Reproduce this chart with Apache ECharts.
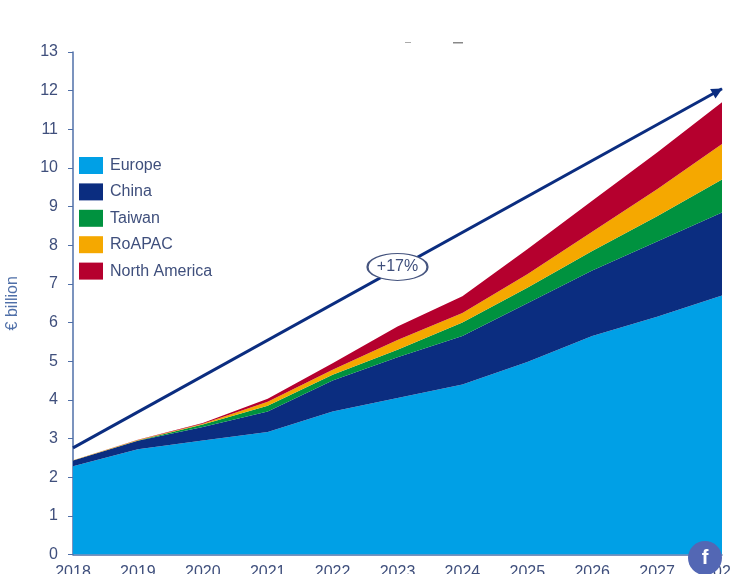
<!DOCTYPE html>
<html lang="en">
<head>
    <meta charset="UTF-8">
    <title>Market growth by region</title>
    <script src="https://cdn.jsdelivr.net/npm/echarts@6/dist/echarts.min.js"></script>
    <style>
        html, body { margin: 0; padding: 0; background: #fff; overflow: hidden; }
        #chart { width: 731px; height: 574px; }
    </style>
</head>
<body>
<div id="chart"></div>
<script type="text/javascript">
    // values, in € billion per region (the areas stack)
    let years = ['2018', '2019', '2020', '2021', '2022', '2023', '2024', '2025', '2026', '2027', '2028'];
    let europe = [2.28, 2.72, 2.95, 3.17, 3.70, 4.05, 4.40, 4.98, 5.65, 6.15, 6.70];
    let china = [0.15, 0.22, 0.35, 0.53, 0.80, 1.05, 1.25, 1.52, 1.70, 1.95, 2.15];
    let taiwan = [0.00, 0.01, 0.06, 0.15, 0.15, 0.20, 0.35, 0.40, 0.50, 0.65, 0.85];
    let roapac = [0.01, 0.01, 0.02, 0.10, 0.13, 0.25, 0.25, 0.35, 0.50, 0.70, 0.92];
    let northAmerica = [0.00, 0.01, 0.02, 0.08, 0.17, 0.35, 0.43, 0.65, 0.80, 0.95, 1.08];

    let arrowStart = 2.76;
    let arrowEnd = 12.05;
    let growthLabel = '+17%';
    let growthAt = ['2023', 7.44];

    let textColor = '#3f4f7c';
    let axisColor = '#4f6fa8';
    let navy = '#0b2d80';

    let myChart = echarts.init(document.getElementById('chart'));

    function area(name, data, color) {
        return {
            name: name,
            type: 'line',
            stack: 'total',
            data: data,
            symbol: 'none',
            lineStyle: { width: 0 },
            itemStyle: { color: color },
            areaStyle: { color: color, opacity: 1 }
        };
    }

    let option = {
        animation: false,
        backgroundColor: '#fff',
        textStyle: { fontFamily: '"Liberation Sans", Arial, sans-serif' },
        grid: { left: 73, right: 9, top: 52, bottom: 19.5, outerBoundsMode: 'none' },
        legend: {
            orient: 'vertical',
            left: 74,
            top: 152,
            icon: 'rect',
            itemWidth: 24,
            itemHeight: 17,
            itemGap: 9.4,
            data: ['Europe', 'China', 'Taiwan', 'RoAPAC', 'North America'],
            textStyle: { color: textColor, fontSize: 16, padding: [3, 0, 0, 2] }
        },
        xAxis: {
            type: 'category',
            boundaryGap: false,
            data: years,
            axisLine: { lineStyle: { color: axisColor, width: 1.5 } },
            axisTick: { show: false },
            axisLabel: { color: textColor, fontSize: 16, margin: 10, interval: 0, hideOverlap: false }
        },
        yAxis: {
            type: 'value',
            min: 0,
            max: 13,
            interval: 1,
            name: '€ billion',
            nameLocation: 'middle',
            nameGap: 52,
            nameTextStyle: { color: axisColor, fontSize: 16 },
            splitLine: { show: false },
            axisLine: { show: true, lineStyle: { color: axisColor, width: 1.5 } },
            axisTick: { show: true, length: 5, lineStyle: { color: axisColor } },
            axisLabel: { color: textColor, fontSize: 16, margin: 15, padding: [2, 0, 0, 0] }
        },
        series: [
            area('Europe', europe, '#00a0e6'),
            area('China', china, navy),
            area('Taiwan', taiwan, '#00923f'),
            area('RoAPAC', roapac, '#f5a800'),
            area('North America', northAmerica, '#b5002e'),
            {
                // growth arrow with the rate in an ellipse on top of it
                name: 'Growth',
                type: 'line',
                data: [],
                z: 5,
                markLine: {
                    silent: true,
                    symbol: ['none', 'triangle'],
                    symbolSize: 11,
                    symbolOffset: [0, [0, 5]],
                    label: { show: false },
                    lineStyle: { color: navy, width: 3, type: 'solid' },
                    data: [[
                        { coord: [years[0], arrowStart] },
                        { coord: [years[years.length - 1], arrowEnd] }
                    ]]
                },
                markPoint: {
                    silent: true,
                    symbol: 'path://M0 14A30 14 0 1 1 60 14A30 14 0 1 1 0 14Z',
                    symbolSize: [60, 27],
                    symbolKeepAspect: false,
                    itemStyle: { color: '#fff', borderColor: '#46557f', borderWidth: 1.5 },
                    label: { show: true, position: 'inside', color: textColor, fontSize: 16, formatter: growthLabel },
                    data: [{ coord: growthAt }]
                }
            }
        ],
        graphic: [
            // share button sitting over the last axis label
            {
                type: 'circle',
                z: 100,
                shape: { cx: 705, cy: 558, r: 17 },
                style: { fill: '#5367b4' }
            },
            {
                type: 'text',
                z: 101,
                x: 705,
                y: 558,
                style: {
                    text: 'f',
                    fill: '#fff',
                    font: 'bold 20px "Liberation Sans", Arial, sans-serif',
                    align: 'center',
                    verticalAlign: 'middle'
                }
            },
            // leftovers of a cropped title above the plot
            { type: 'rect', shape: { x: 405, y: 42, width: 6, height: 1 }, style: { fill: '#aaaaaa' } },
            { type: 'rect', shape: { x: 453, y: 42, width: 10, height: 1.5 }, style: { fill: '#888888' } }
        ]
    };
    myChart.setOption(option);
</script>
</body>
</html>
